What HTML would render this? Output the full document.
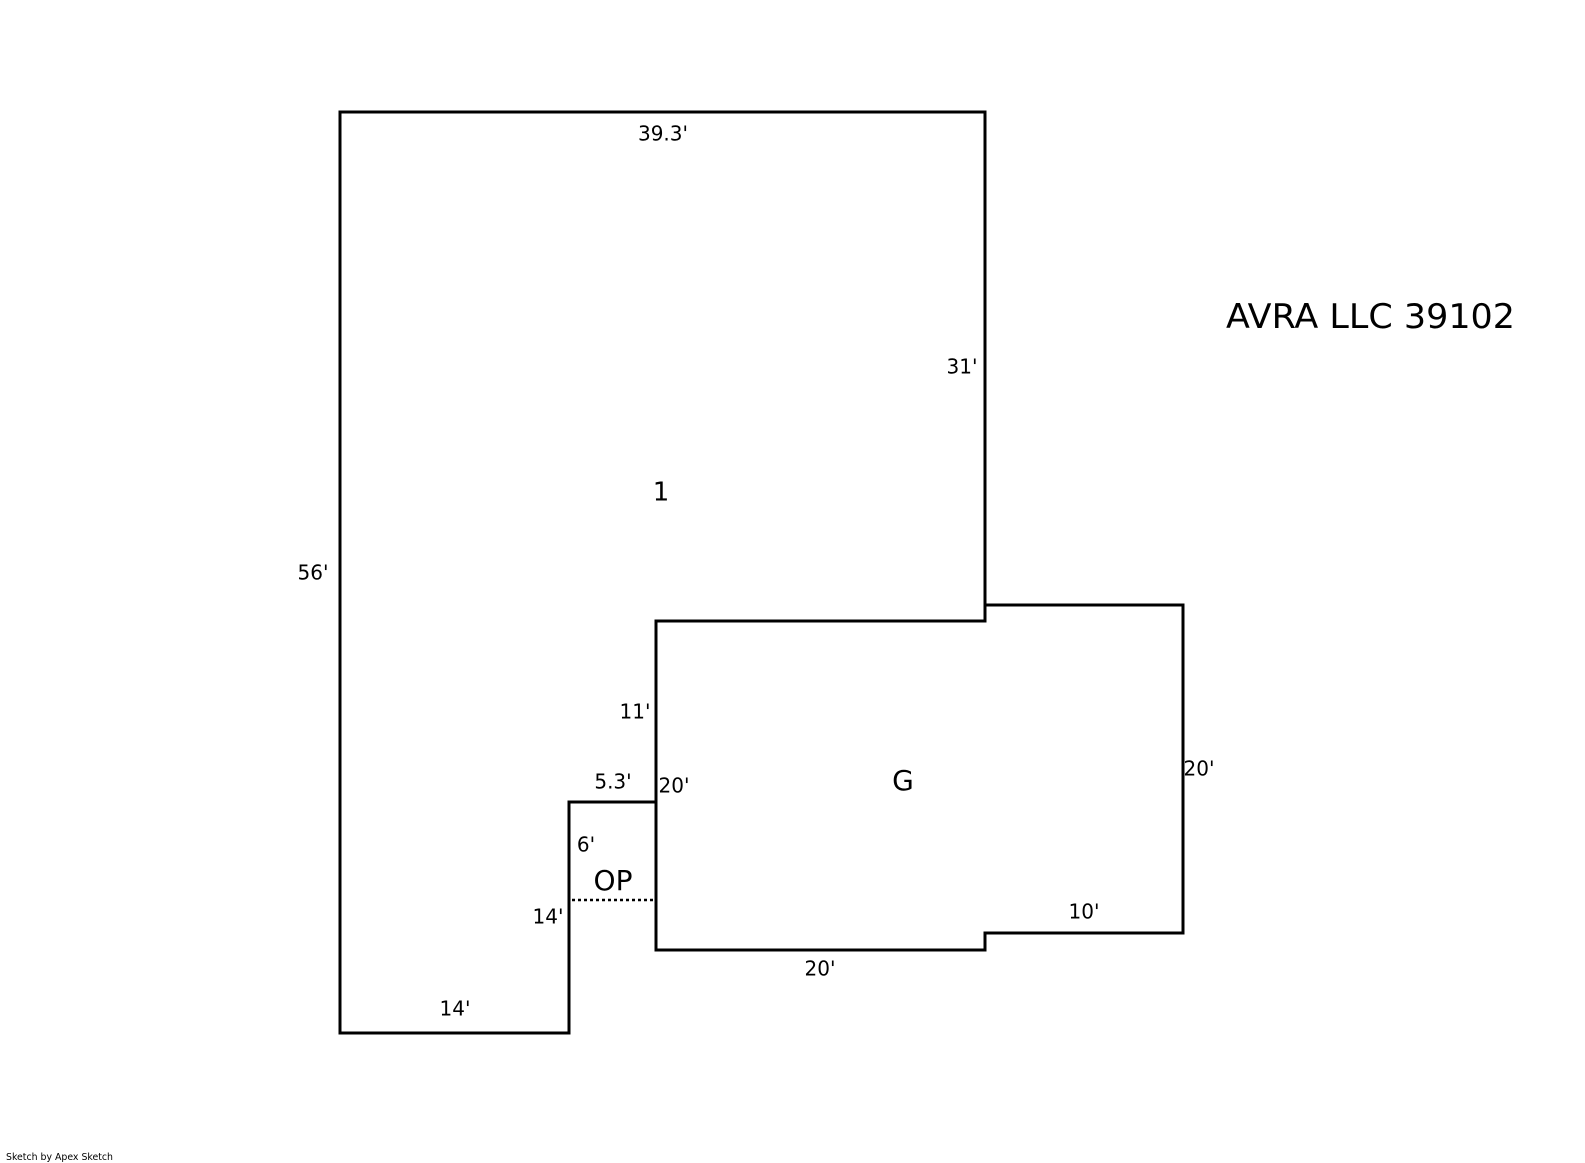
<!DOCTYPE html>
<html><head><meta charset="utf-8"><style>
html,body{margin:0;padding:0;background:#fff;}
svg{display:block;}
text{font-family:"DejaVu Sans","Liberation Sans",sans-serif;fill:#000;}
</style></head><body>
<svg width="1585" height="1163" viewBox="0 0 1585 1163" xmlns="http://www.w3.org/2000/svg">
<g fill="none" stroke="#000" stroke-width="3" stroke-linecap="square">
<path d="M340,112 H985 V621 H656 V802 H569 V1033 H340 Z"/>
<path d="M985,605 H1183 V933 H985 V950 H656 V621"/>
<path d="M569,802 H656"/>
</g>
<path d="M572,900 H654" stroke="#000" stroke-width="2.5" stroke-dasharray="3,3" fill="none"/>
<g font-size="20" text-anchor="middle" dominant-baseline="middle">
<text x="663" y="135">39.3'</text>
<text x="962" y="368">31'</text>
<text x="313" y="574">56'</text>
<text x="635" y="713">11'</text>
<text x="613" y="783">5.3'</text>
<text x="674" y="787">20'</text>
<text x="586" y="846">6'</text>
<text x="548" y="918">14'</text>
<text x="1199" y="770">20'</text>
<text x="1084" y="913">10'</text>
<text x="820" y="970">20'</text>
<text x="455" y="1010">14'</text>
<text x="661" y="493" font-size="26">1</text>
<text x="903" y="782" font-size="28">G</text>
<text x="613" y="882" font-size="28">OP</text>
</g>
<text x="1226" y="328" font-size="34" textLength="289" lengthAdjust="spacingAndGlyphs">AVRA LLC 39102</text>
<text x="6" y="1160" font-size="10" textLength="107" lengthAdjust="spacingAndGlyphs">Sketch by Apex Sketch</text>
</svg>
</body></html>
